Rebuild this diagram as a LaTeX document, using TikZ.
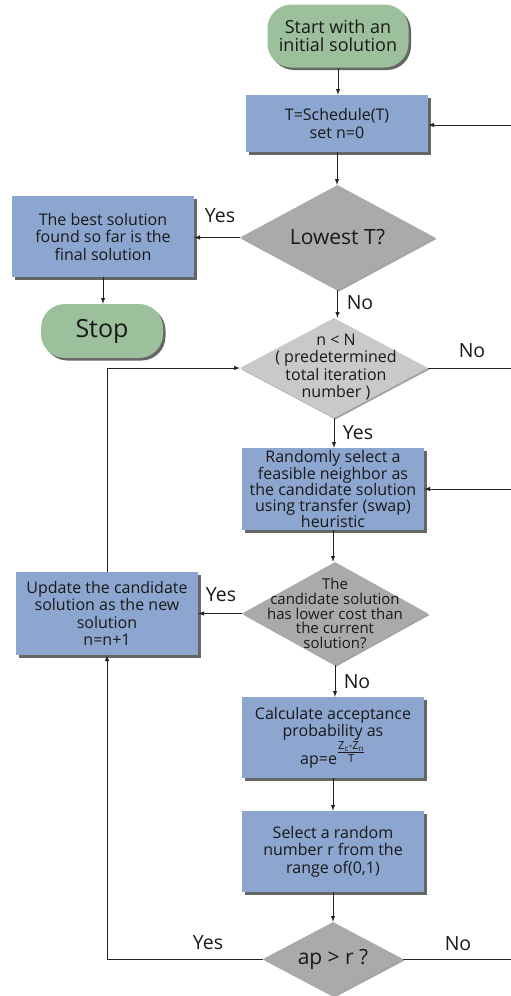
\documentclass[tikz,border=0pt]{standalone}
\usepackage{amsmath}
\usepackage{fontspec}
\setmainfont{Open Sans}
\usetikzlibrary{shapes.geometric,shadows}

\definecolor{boxblue}{RGB}{140,166,207}
\definecolor{termgreen}{RGB}{156,191,156}
\definecolor{condgray}{RGB}{170,170,170}
\definecolor{condlight}{RGB}{201,201,201}
\definecolor{linegray}{RGB}{34,34,34}

\begin{document}
\begin{tikzpicture}
	[
	x=1pt, y=-1pt,
	align=center,
	text=black!90,
	box/.style={rectangle, fill=boxblue, inner sep=0pt, minimum width=182pt, minimum height=81pt,
		drop shadow={shadow xshift=2.5pt, shadow yshift=-2.5pt, fill=black!75, opacity=0.8},
		font=\fontsize{16}{17.5}\selectfont},
	term/.style={rectangle, rounded corners=24pt, fill=termgreen, inner sep=0pt,
		drop shadow={shadow xshift=2.5pt, shadow yshift=-2.5pt, fill=black!75, opacity=0.8}},
	cond/.style={diamond, fill=condgray, inner sep=0pt,
		drop shadow={shadow xshift=1.5pt, shadow yshift=-1.5pt, fill=black!60, opacity=0.6}},
	txt/.style={inner sep=0pt, font=\fontsize{16}{17.5}\selectfont},
	lbl/.style={inner sep=0pt, font=\fontsize{19.5}{22}\selectfont},
	link/.style={draw=linegray, line width=1pt, -latex},
	line/.style={draw=linegray, line width=1pt},
	]
		\useasboundingbox (0,0) rectangle (511,996);
		
		% start and stop
		\node[term, minimum width=141pt, minimum height=63pt, font=\fontsize{18}{18}\selectfont] (start) at (338,36) {Start with an\\initial solution};
		\node[term, minimum width=122pt, minimum height=54pt, font=\fontsize{25}{28}\selectfont] (stop) at (102,331) {Stop};
		
		% process boxes
		\node[box, minimum height=57pt] (sched) at (337,123.5) {T=Schedule(T)\\set n=0};
		\node[box] (best) at (103,236.5) {The best solution\\found so far is the\\final solution};
		\node[box, minimum height=82pt, font=\fontsize{16}{16}\selectfont] (rand) at (333,489) {Randomly select a\\feasible neighbor as\\the candidate solution\\using transfer (swap)\\heuristic};
		\node[box, minimum height=83pt] (upd) at (107,613.5) {Update the candidate\\solution as the new\\solution\\n=n+1};
		\node[box] (calc) at (333,737.5) {Calculate acceptance\\probability as\\ap=e$^{\genfrac{}{}{}{1}{\text{Z\textsubscript{c}-Z\textsubscript{n}}}{\text{T}}}$};
		\node[box] (sel) at (333,851.5) {Select a random\\number r from the\\range of(0,1)};
		
		% decisions
		\node[cond, minimum width=195pt, minimum height=105pt] (lowt) at (337.5,237.5) {};
		\node[txt, font=\fontsize{21}{22}\selectfont] (lowtt) at (lowt) {Lowest T?};
		\node[cond, fill=condlight, minimum width=188pt, minimum height=100pt] (nlim) at (334,368) {};
		\node[txt] (nlimt) at (336,367) {n < N\\( predetermined\\total iteration\\number )};
		\node[cond, minimum width=186pt, minimum height=103pt] (cand) at (335,613.5) {};
		\node[txt, font=\fontsize{15}{14.8}\selectfont] (candt) at (cand) {The\\candidate solution\\has lower cost than\\the current\\solution?};
		\node[cond, minimum width=140pt, minimum height=74pt] (apr) at (333,959) {};
		\node[txt, font=\fontsize{21}{22}\selectfont] (aprt) at (apr) {ap > r ?};
		
		% branch labels
		\node[lbl] (yes1) at (220,216) {Yes};
		\node[lbl] (no1) at (360,303) {No};
		\node[lbl] (no2) at (472,351) {No};
		\node[lbl] (yes2) at (358,433) {Yes};
		\node[lbl] (yes3) at (221,595) {Yes};
		\node[lbl] (no3) at (357,682) {No};
		\node[lbl] (yes4) at (208,943) {Yes};
		\node[lbl] (no4) at (458,944) {No};
		
		% loose ends at the right margin
		\coordinate (rsched) at (511,125);
		\coordinate (rnlim) at (511,368);
		\coordinate (rrand) at (511,489);
		\coordinate (rapr) at (511,959);
		
		\foreach \from/\to in {start/sched,sched/lowt,best/stop,lowt/nlim,nlim/rand,rand/cand,cand/calc,calc/sel,sel/apr} \draw[link] (\from.south) -- (\from.south |- \to.north);
		\foreach \from/\to in {lowt/best,cand/upd} \draw[link] (\from.west) -- (\from.west -| \to.east);
		\foreach \from/\to in {rsched/sched,rrand/rand} \draw[link] (\from) -- (\from -| \to.east);
		\foreach \from/\to in {nlim/rnlim,apr/rapr} \draw[line] (\from.east) -- (\to);
		\draw[link] (apr.west) -| (upd.south);
		\draw[link] (upd.north) |- (nlim.west);
		
	\end{tikzpicture}
\end{document}
